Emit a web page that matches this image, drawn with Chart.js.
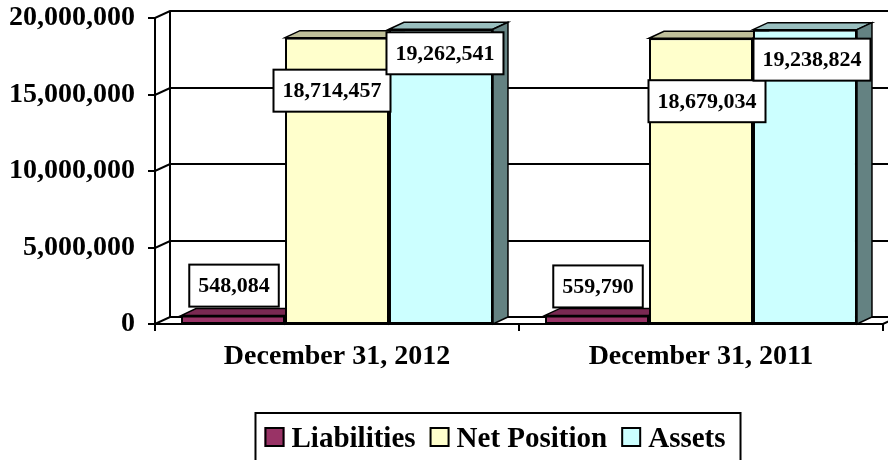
<!DOCTYPE html>
<html>
<head>
<meta charset="utf-8">
<title>Liabilities, Net Position and Assets</title>
<script src="https://cdn.jsdelivr.net/npm/chart.js@4.4.1/dist/chart.umd.min.js"></script>
<style>
	html, body { margin: 0; padding: 0; background: #fff; }
	#wrap { width: 888px; height: 460px; overflow: hidden; }
</style>
</head>
<body>
<div id="wrap"><canvas id="chart" width="888" height="460"></canvas></div>
<script>
// Chart data
var categories = ['December 31, 2012', 'December 31, 2011'];
var seriesNames = ['Liabilities', 'Net Position', 'Assets'];
var liabilities = [548084, 559790];
var netPosition = [18714457, 18679034];
var assets = [19262541, 19238824];
var yTickValues = [0, 5000000, 10000000, 15000000, 20000000];

(function() {
	'use strict';

	var FONT = '"Liberation Serif", "Times New Roman", serif';
	var DX = 15, DY = -7; // 3D depth offset

	// Label box offsets from the top centre of each bar [dataset][category]
	var labelShift = [
		[[1, -30], [1, -29]],
		[[-5, 53], [6, 63]],
		[[4, 24], [7, 30]]
	];

	function fmt(v) {
		return Number(v).toLocaleString('en-US');
	}

	/**
	 * Walls, floor and depth faces of the bars.
	 */
	var threeD = {
		id: 'threeD',
		beforeDatasetsDraw: function(chart) {
			var ctx = chart.ctx;
			var area = chart.chartArea;
			var yScale = chart.scales.y;
			var catW = (area.right - area.left) / categories.length;

			ctx.save();
			ctx.strokeStyle = '#000';
			ctx.lineWidth = 2;
			ctx.beginPath();

			// Gridlines on back wall, side wall diagonals and tick marks
			yTickValues.forEach(function(v) {
				var py = Math.round(yScale.getPixelForValue(v));
				ctx.moveTo(area.left - 7, py);
				ctx.lineTo(area.left, py);
				ctx.lineTo(area.left + DX, py + DY);
				ctx.lineTo(chart.width, py + DY);
			});

			// Front and back vertical edges of the side wall
			ctx.moveTo(area.left, area.top);
			ctx.lineTo(area.left, area.bottom);
			ctx.moveTo(area.left + DX, area.top + DY);
			ctx.lineTo(area.left + DX, area.bottom + DY);

			// Floor front edge and right diagonal
			ctx.moveTo(area.left, area.bottom);
			ctx.lineTo(area.right, area.bottom);
			ctx.lineTo(area.right + DX, area.bottom + DY);

			// Category tick marks
			for (var i = 0; i <= categories.length; i++) {
				var tx = Math.round(area.left + i * catW);
				ctx.moveTo(tx, area.bottom);
				ctx.lineTo(tx, area.bottom + 7);
			}
			ctx.stroke();

			// Top and side faces of each bar
			ctx.lineWidth = 1.5;
			chart.data.datasets.forEach(function(ds, di) {
				var meta = chart.getDatasetMeta(di);
				meta.data.forEach(function(bar) {
					var p = bar.getProps(['x', 'y', 'base', 'width'], true);
					var l = p.x - p.width / 2;
					var r = p.x + p.width / 2;

					ctx.beginPath();
					ctx.moveTo(l, p.y);
					ctx.lineTo(l + DX, p.y + DY);
					ctx.lineTo(r + DX, p.y + DY);
					ctx.lineTo(r, p.y);
					ctx.closePath();
					ctx.fillStyle = ds.topColor;
					ctx.fill();
					ctx.stroke();

					ctx.beginPath();
					ctx.moveTo(r, p.y);
					ctx.lineTo(r + DX, p.y + DY);
					ctx.lineTo(r + DX, p.base + DY);
					ctx.lineTo(r, p.base);
					ctx.closePath();
					ctx.fillStyle = ds.sideColor;
					ctx.fill();
					ctx.stroke();
				});
			});
			ctx.restore();
		}
	};

	/**
	 * Boxed value labels.
	 */
	var valueLabels = {
		id: 'valueLabels',
		afterDatasetsDraw: function(chart) {
			var ctx = chart.ctx;
			ctx.save();
			ctx.font = 'bold 22px ' + FONT;
			ctx.textAlign = 'center';
			ctx.textBaseline = 'middle';

			chart.data.datasets.forEach(function(ds, di) {
				var meta = chart.getDatasetMeta(di);
				meta.data.forEach(function(bar, i) {
					var p = bar.getProps(['x', 'y'], true);
					var text = fmt(ds.data[i]);
					var w = ctx.measureText(text).width + 18;
					var h = 42;
					var cx = p.x + labelShift[di][i][0];
					var cy = p.y + labelShift[di][i][1];

					ctx.fillStyle = '#fff';
					ctx.fillRect(cx - w / 2, cy - h / 2, w, h);
					ctx.strokeStyle = '#000';
					ctx.lineWidth = 2;
					ctx.strokeRect(cx - w / 2, cy - h / 2, w, h);
					ctx.fillStyle = '#000';
					ctx.fillText(text, cx, cy + 1);
				});
			});
			ctx.restore();
		}
	};

	/**
	 * Framed legend at the bottom.
	 */
	var boxLegend = {
		id: 'boxLegend',
		afterDraw: function(chart) {
			var ctx = chart.ctx;
			var sq = 20, gap = 7, itemGap = 14;
			var centerX = 495;
			var baseline = 447;

			ctx.save();
			ctx.font = 'bold 29px ' + FONT;
			var widths = chart.data.datasets.map(function(ds) {
				return sq + gap + ctx.measureText(ds.label).width;
			});
			var total = widths.reduce(function(a, b) { return a + b; }, 0) + itemGap * (widths.length - 1);
			var x = centerX - total / 2;

			ctx.strokeStyle = '#000';
			ctx.lineWidth = 2;
			ctx.strokeRect(x - 9, 413, total + 24, 60);

			chart.data.datasets.forEach(function(ds, di) {
				ctx.fillStyle = ds.backgroundColor;
				ctx.fillRect(x, baseline - sq, sq, sq);
				ctx.strokeRect(x + 1, baseline - sq + 1, sq - 2, sq - 2);
				ctx.fillStyle = '#000';
				ctx.textBaseline = 'alphabetic';
				ctx.fillText(ds.label, x + sq + gap, baseline);
				x += widths[di] + itemGap;
			});
			ctx.restore();
		}
	};

	var ctx = document.getElementById('chart').getContext('2d');

	new Chart(ctx, {
		type: 'bar',
		data: {
			labels: categories,
			datasets: [{
				label: seriesNames[0],
				data: liabilities,
				backgroundColor: '#993366',
				topColor: '#7a2952',
				sideColor: '#5c1f3d'
			}, {
				label: seriesNames[1],
				data: netPosition,
				backgroundColor: '#ffffcc',
				topColor: '#bfbf99',
				sideColor: '#99997a'
			}, {
				label: seriesNames[2],
				data: assets,
				backgroundColor: '#ccffff',
				topColor: '#99bfbf',
				sideColor: '#648282'
			}]
		},
		options: {
			responsive: false,
			animation: false,
			devicePixelRatio: 1,
			layout: {
				padding: { left: 0, top: 18, right: 5, bottom: 76 }
			},
			datasets: {
				bar: {
					borderColor: '#000',
					borderWidth: 2,
					borderSkipped: false,
					categoryPercentage: 0.857,
					barPercentage: 1
				}
			},
			plugins: {
				legend: { display: false },
				tooltip: { enabled: false }
			},
			scales: {
				x: {
					grid: { display: false, drawTicks: false },
					border: { display: false },
					ticks: {
						color: '#000',
						font: { family: FONT, size: 28, weight: 'bold' },
						padding: 16,
						maxRotation: 0,
						autoSkip: false
					},
					afterFit: function(scale) {
						scale.height = 60;
					}
				},
				y: {
					min: 0,
					max: 20000000,
					grid: { display: false, drawTicks: false },
					border: { display: false },
					ticks: {
						stepSize: 5000000,
						color: '#000',
						padding: 20,
						font: { family: FONT, size: 28, weight: 'bold' },
						callback: function(value) {
							return fmt(value);
						}
					},
					afterFit: function(scale) {
						scale.width = 155;
						// keep the tick padding from pushing the plot down
						scale.paddingTop = 0;
						scale.paddingBottom = 0;
					}
				}
			}
		},
		plugins: [threeD, valueLabels, boxLegend]
	});
})();
</script>
</body>
</html>
